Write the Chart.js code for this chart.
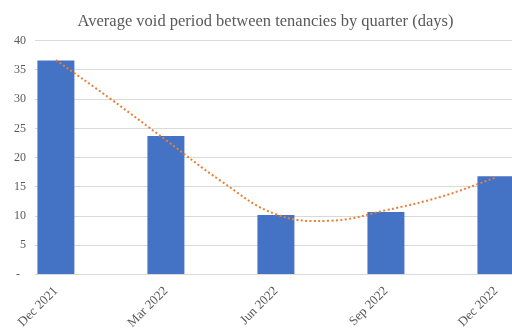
<!DOCTYPE html>
<html>
<head>
<meta charset="utf-8">
<script src="https://cdn.jsdelivr.net/npm/chart.js@4"></script>
<style>
html,body{margin:0;padding:0;background:#fff;overflow:hidden;}
canvas{display:block;}
</style>
</head>
<body>
<canvas id="c" width="512" height="329"></canvas>
<script>
const categories = ['Dec 2021', 'Mar 2022', 'Jun 2022', 'Sep 2022', 'Dec 2022'];
const voidDays = [36.6, 23.7, 10.2, 10.7, 16.8];
const trendPos = [0, 0.5, 1, 1.5, 2, 2.5, 3, 3.5, 4];
const trendDays = [36.7, 30.0, 23.0, 16.0, 10.3, 9.2, 11.0, 13.3, 16.6];
const yTicks = [0, 5, 10, 15, 20, 25, 30, 35, 40];
const titleText = 'Average void period between tenancies by quarter (days)';

const grey = '#595959';
const serif = "'Liberation Serif', 'Times New Roman', serif";

// Title centred over the plotted categories (as in the original Excel chart)
const plotTitle = {
  id: 'plotTitle',
  afterDraw(chart) {
    const ctx = chart.ctx;
    const xs = chart.scales.x;
    const cx = (chart.chartArea.left + xs.getPixelForValue(categories.length - 1)) / 2;
    ctx.save();
    ctx.font = '16.5px ' + serif;
    ctx.fillStyle = grey;
    ctx.textAlign = 'center';
    ctx.textBaseline = 'alphabetic';
    ctx.fillText(titleText, cx, 26);
    ctx.restore();
  }
};

new Chart(document.getElementById('c'), {
  data: {
    datasets: [
      {
        type: 'line',
        order: 0,
        data: trendPos.map((x, i) => ({x: x, y: trendDays[i]})),
        borderColor: '#ED7D31',
        borderWidth: 2,
        borderDash: [2, 2.4],
        pointRadius: 0,
        tension: 0.4,
        fill: false
      },
      {
        type: 'bar',
        order: 1,
        data: categories.map((c, i) => ({x: i, y: voidDays[i]})),
        backgroundColor: '#4472C4',
        barPercentage: 0.336,
        categoryPercentage: 1
      }
    ]
  },
  plugins: [plotTitle],
  options: {
    responsive: false,
    animation: false,
    devicePixelRatio: 1,
    layout: {padding: {left: 0, right: 0, top: 40.7, bottom: 0}},
    plugins: {
      legend: {display: false},
      tooltip: {enabled: false},
      title: {display: false}
    },
    scales: {
      x: {
        type: 'linear',
        offset: false,
        min: -0.19,
        max: 4.146,
        afterBuildTicks: s => { s.ticks = categories.map((c, i) => ({value: i})); },
        afterFit: s => { s.height = 54.5; },
        grid: {display: false, offset: false},
        border: {display: true, color: '#d9d9d9', width: 1},
        ticks: {
          autoSkip: false,
          minRotation: 45,
          maxRotation: 45,
          padding: 1,
          color: grey,
          font: {family: serif, size: 13},
          callback: v => categories[v] !== undefined ? categories[v] : ''
        }
      },
      y: {
        min: 0,
        max: 40,
        afterBuildTicks: s => { s.ticks = yTicks.map(v => ({value: v})); },
        afterFit: s => { s.width = 35; },
        grid: {color: '#d9d9d9', drawTicks: false},
        border: {display: false},
        ticks: {
          padding: 9,
          color: grey,
          font: {family: serif, size: 12},
          callback: v => v === 0 ? '-  ' : String(v)
        }
      }
    }
  }
});
</script>
</body>
</html>
